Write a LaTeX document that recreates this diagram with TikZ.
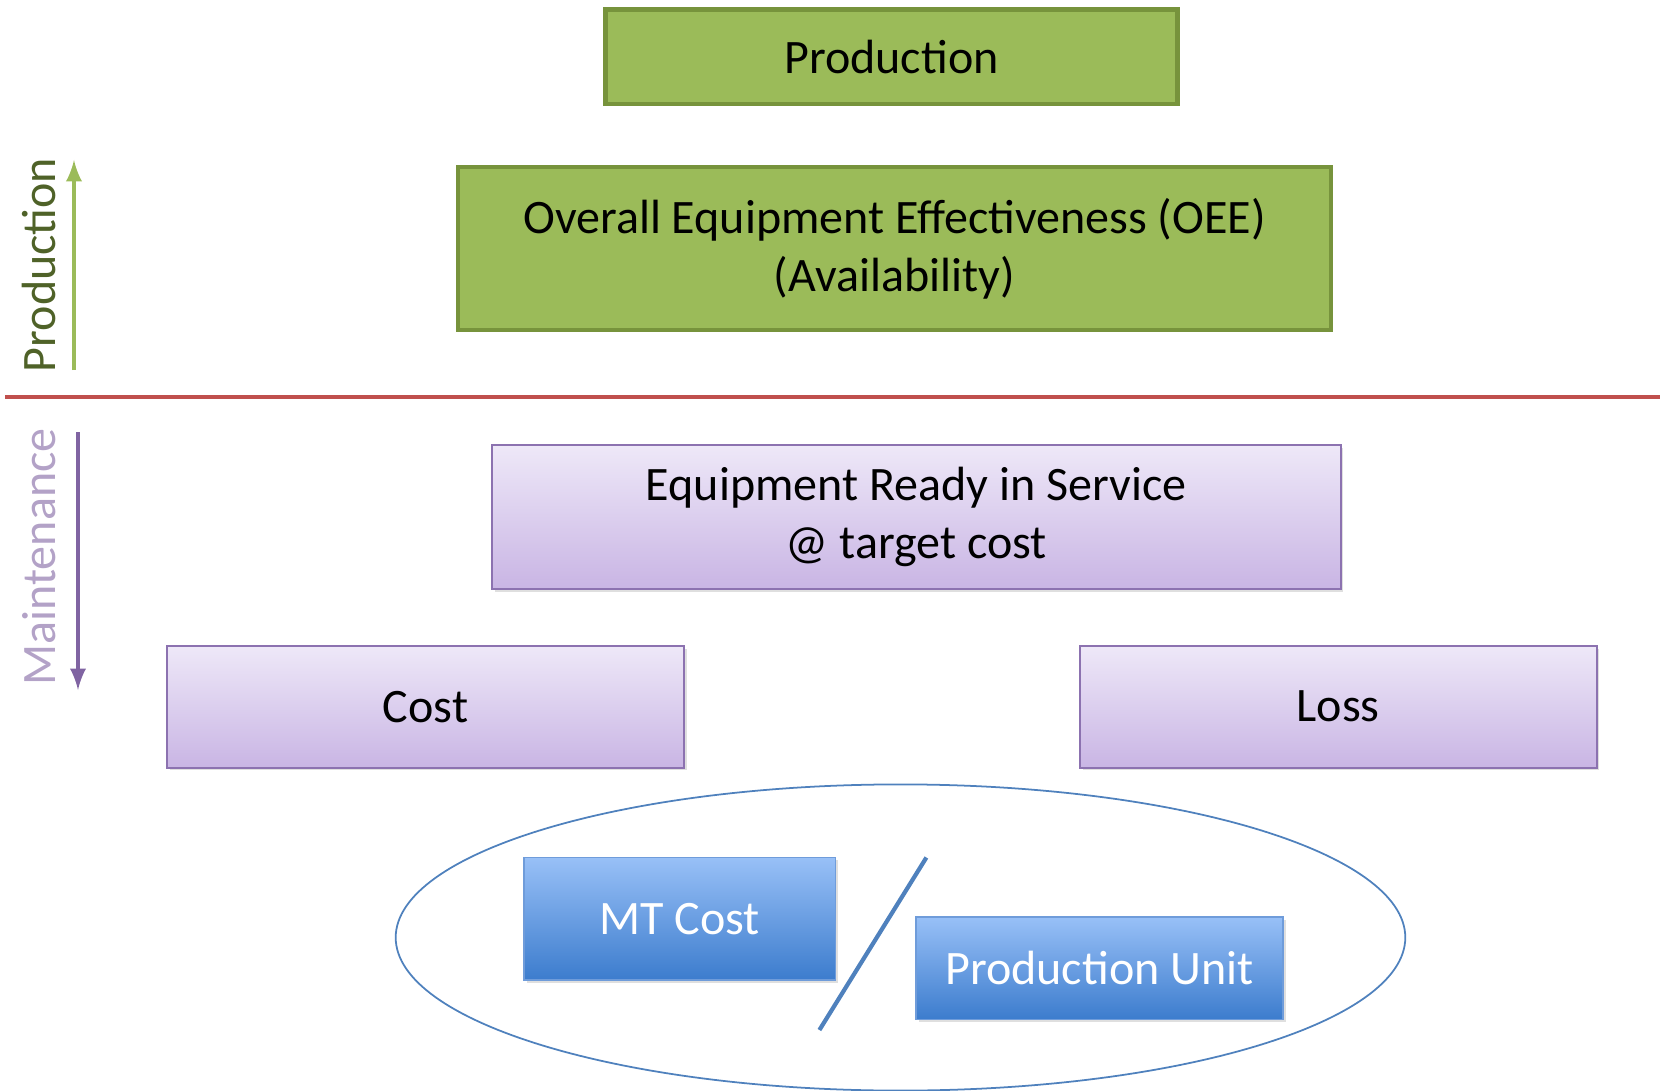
\documentclass[tikz,border=0pt]{standalone}
\usepackage{fontspec}
\setmainfont{Carlito}
\usepackage{tikz}
\usetikzlibrary{positioning,arrows,calc,shapes.geometric,shadows}

\definecolor{prodfill}{HTML}{9BBB59}
\definecolor{prodedge}{HTML}{77933C}
\definecolor{prodtext}{HTML}{4F6228}
\definecolor{mtedge}{HTML}{8C72B0}
\definecolor{mttop}{HTML}{EEE8F8}
\definecolor{mtbot}{HTML}{C9B5E4}
\definecolor{mttext}{HTML}{B3A2C7}
\definecolor{mtarrow}{HTML}{8064A2}
\definecolor{bluetop}{HTML}{98C0F7}
\definecolor{bluebot}{HTML}{3C7CCD}
\definecolor{blueedge}{HTML}{6F9CDA}
\definecolor{ringedge}{HTML}{4F81BD}
\definecolor{splitred}{HTML}{C0504D}

\newcommand{\txt}{\fontsize{13.66pt}{16.5pt}\selectfont}

\begin{document}
\begin{tikzpicture}[x=0.01cm,y=-0.01cm,>=latex,
	greenbox/.style={draw=prodedge,line width=1.2pt,fill=prodfill,align=center,font=\txt,inner sep=0},
	purplebox/.style={draw=mtedge,line width=0.6pt,top color=mttop,bottom color=mtbot,align=center,font=\txt,inner sep=0,
		drop shadow={opacity=0.25,shadow xshift=0.8pt,shadow yshift=-0.8pt}},
	bluebox/.style={draw=blueedge,line width=0.5pt,top color=bluetop,bottom color=bluebot,text=white,font=\txt,inner sep=0,
		drop shadow={opacity=0.25,shadow xshift=0.8pt,shadow yshift=-0.8pt}},
	sidelabel/.style={rotate=90,anchor=south,inner sep=0,font=\txt}]
\useasboundingbox (0,0) rectangle (1660,1091);
%	\draw[lightgray] (0,397) -- (1660,397);
%	\foreach \x in {0,200,...,1600}
%		\draw[lightgray] (\x,0) -- (\x,1091);

\node[greenbox,minimum width=5.717cm,minimum height=0.943cm] (Prod) at (891.5,56.7) {Production};
\node[greenbox,minimum width=8.724cm,minimum height=1.63cm] (OEE) at (894.6,248.8)
	{Overall Equipment Effectiveness (OEE)\\(Availability)};

\node[purplebox,minimum width=8.48cm,minimum height=1.439cm] (Ready) at (916.3,516.7)
	{Equipment Ready in Service\\@ target cost};
\node[purplebox,minimum width=5.166cm,minimum height=1.218cm] (Cost) at (425.6,706.7) {Cost};
\node[purplebox,minimum width=5.166cm,minimum height=1.218cm] (Loss) at (1338.2,706.7) {Loss};

\node[ellipse,draw=ringedge,line width=0.5pt,minimum width=10.09cm,minimum height=3.06cm,inner sep=0] (Ring) at (900.5,937.5) {};
\node[bluebox,minimum width=3.113cm,minimum height=1.228cm] (MTCost) at (679.7,918.9) {MT Cost};
\node[bluebox,minimum width=3.674cm,minimum height=1.027cm] (PUnit) at (1099.5,968.2) {Production Unit};

\coordinate (SlashTop) at (926.4,857.5);
\coordinate (SlashBot) at (819.4,1030);
\draw[ringedge,line width=1.2pt] (SlashTop) -- (SlashBot);

% production / maintenance split
\coordinate (SplitL) at (5,397);
\coordinate (SplitR) at (1660,397);
\draw[splitred,line width=1.4pt] (SplitL) -- (SplitR);

\node[sidelabel,text=prodtext] (ProdLabel) at (57,265) {Production};
\coordinate (ProdFrom) at (74,370);
\coordinate (ProdTo) at (74,160);
\draw[->,prodfill,line width=1.1pt] (ProdFrom) -- (ProdTo);

\node[sidelabel,text=mttext] (MtLabel) at (57,557) {Maintenance};
\coordinate (MtFrom) at (78,432);
\coordinate (MtTo) at (78,690);
\draw[->,mtarrow,line width=1.1pt] (MtFrom) -- (MtTo);
\end{tikzpicture}
\end{document}
